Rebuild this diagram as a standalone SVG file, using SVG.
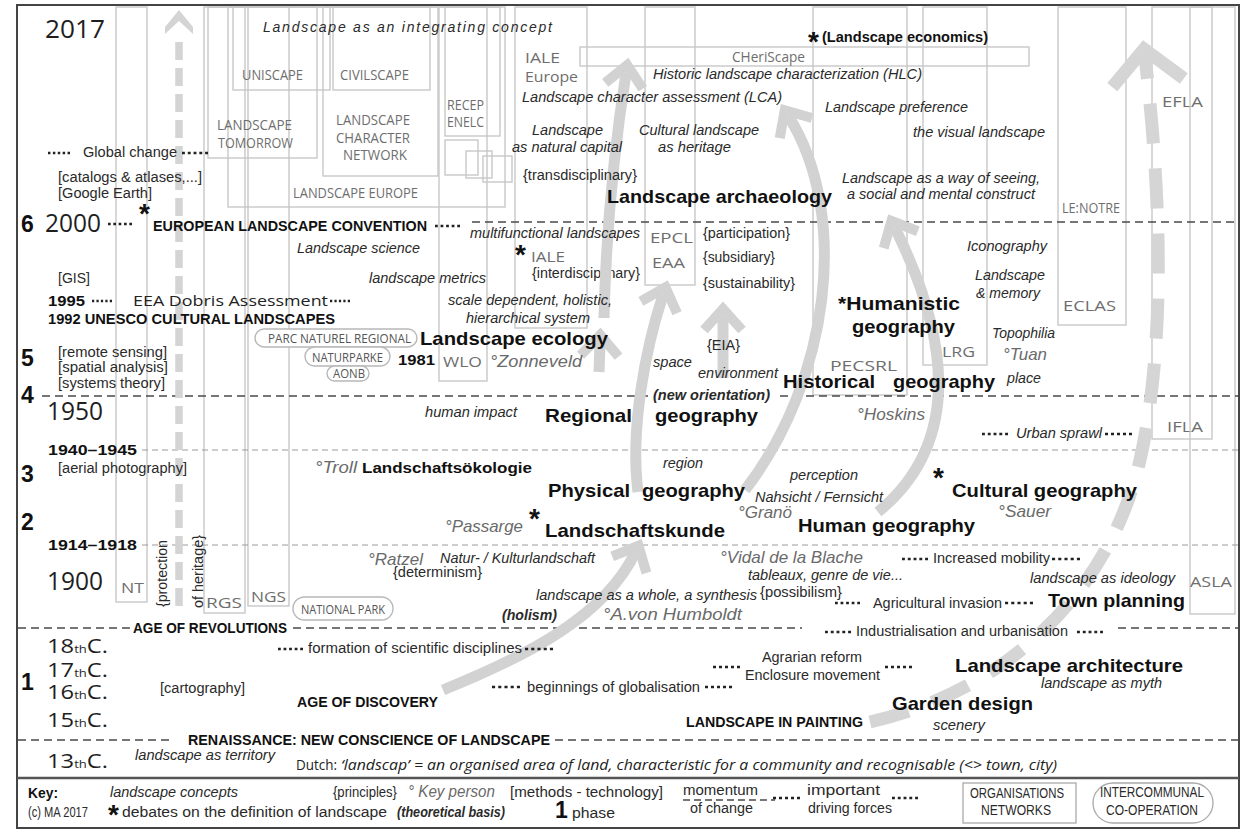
<svg xmlns="http://www.w3.org/2000/svg" width="1248" height="831" viewBox="0 0 1248 831">
<defs>
<style>
text{font-family:"Liberation Sans",Arial,sans-serif;fill:#2a2a2a;font-size:14px}
.it{font-style:italic}
.b{font-weight:bold;font-size:19px;fill:#111}
.bc{font-weight:bold;font-size:15px;fill:#111}
.o{font-family:"Open Sans","Liberation Sans",sans-serif;fill:#6e6e6e}
.od{font-family:"Open Sans","Liberation Sans",sans-serif;fill:#222}
.on{font-family:"Open Sans","Liberation Sans",sans-serif;fill:#555;font-size:12px}
.yr{font-family:"Open Sans","Liberation Sans",sans-serif;font-size:25px;fill:#1e1e1e}
.cy{font-family:"Open Sans","Liberation Sans",sans-serif;font-size:20px;fill:#1e1e1e}
.ph{font-weight:bold;font-size:23px;fill:#111}
.kp{font-style:italic;font-size:17px;fill:#6a6a6a}
.st{font-weight:bold;font-size:28px;fill:#111}
.box{fill:none;stroke:#c8c8c8;stroke-width:1.4}
.rbox{fill:#fff;stroke:#b8b8b8;stroke-width:1.4}
.dk{fill:none;stroke:#4a4a4a;stroke-width:1.6;stroke-dasharray:8 5}
.lt{fill:none;stroke:#9a9a9a;stroke-width:1;stroke-dasharray:6 4}
.dots{fill:none;stroke:#222;stroke-width:2.3;stroke-dasharray:1 1}
.arr{fill:none;stroke:#d2d2d2;stroke-width:11;marker-end:url(#chev)}
</style>
<marker id="chev" markerUnits="userSpaceOnUse" orient="auto" markerWidth="80" markerHeight="80" viewBox="-40 -40 80 80" refX="0" refY="0" overflow="visible">
<path d="M-13,-19 L8,0 L-13,19" fill="none" stroke="#d2d2d2" stroke-width="10"/>
</marker>
<marker id="chevBig" markerUnits="userSpaceOnUse" orient="auto" markerWidth="120" markerHeight="120" viewBox="-60 -60 120 120" refX="0" refY="0" overflow="visible">
<path d="M-26,-36 L8,0 L-26,36" fill="none" stroke="#d5d5d5" stroke-width="13"/>
</marker>
</defs>
<rect x="0" y="0" width="1248" height="831" fill="#fff"/>

<g id="organisations">
<g id="org-nt"><rect class="box" x="116" y="7" width="31" height="595"/><text class="o" x="121" y="593" font-size="19" textLength="23" lengthAdjust="spacingAndGlyphs">NT</text></g>
<g id="org-rgs"><rect class="box" x="204" y="7" width="41" height="606"/><text class="o" x="206" y="608" font-size="20" textLength="36" lengthAdjust="spacingAndGlyphs">RGS</text></g>
<g id="org-ngs"><rect class="box" x="248" y="7" width="41" height="599"/><text class="o" x="251" y="602" font-size="20" textLength="35" lengthAdjust="spacingAndGlyphs">NGS</text></g>
<g id="org-landscape-europe"><rect class="box" x="228" y="7" width="277" height="200"/><text class="o" x="293" y="198" font-size="14" textLength="125" lengthAdjust="spacingAndGlyphs">LANDSCAPE EUROPE</text></g>
<g id="org-landscape-tomorrow"><rect class="box" x="208" y="7" width="109" height="151"/><text class="o" x="217" y="130" font-size="14" textLength="75" lengthAdjust="spacingAndGlyphs">LANDSCAPE</text><text class="o" x="218" y="148" font-size="14" textLength="75" lengthAdjust="spacingAndGlyphs">TOMORROW</text></g>
<g id="org-uniscape"><rect class="box" x="233" y="7" width="97" height="83"/><text class="o" x="242" y="80" font-size="14" textLength="61" lengthAdjust="spacingAndGlyphs">UNISCAPE</text></g>
<g id="org-civilscape"><rect class="box" x="333" y="7" width="97" height="83"/><text class="o" x="340" y="80" font-size="14" textLength="69" lengthAdjust="spacingAndGlyphs">CIVILSCAPE</text></g>
<g id="org-lcn"><rect class="box" x="323" y="7" width="115" height="169"/><text class="o" x="336" y="125" font-size="14" textLength="74" lengthAdjust="spacingAndGlyphs">LANDSCAPE</text><text class="o" x="336" y="143" font-size="14" textLength="74" lengthAdjust="spacingAndGlyphs">CHARACTER</text><text class="o" x="343" y="160" font-size="14" textLength="64" lengthAdjust="spacingAndGlyphs">NETWORK</text></g>
<g id="org-recep"><rect class="box" x="445" y="7" width="55" height="129"/><text class="o" x="447" y="110" font-size="14" textLength="37" lengthAdjust="spacingAndGlyphs">RECEP</text><text class="o" x="447" y="127" font-size="14" textLength="37" lengthAdjust="spacingAndGlyphs">ENELC</text></g>
<g id="org-small-networks"><rect class="box" x="445" y="140" width="33" height="35"/><rect class="box" x="466" y="151" width="26" height="27"/><rect class="box" x="483" y="156" width="29" height="26"/></g>
<g id="org-wlo"><rect class="box" x="439" y="7" width="48" height="374"/><text class="o" x="443" y="367" font-size="19" textLength="39" lengthAdjust="spacingAndGlyphs">WLO</text></g>
<g id="org-iale"><rect class="box" x="515" y="7" width="72" height="321"/><text class="o" x="525" y="63" font-size="19" textLength="35" lengthAdjust="spacingAndGlyphs">IALE</text><text class="o" x="525" y="82" font-size="19" textLength="53" lengthAdjust="spacingAndGlyphs">Europe</text><text class="st" x="515" y="264">*</text><text class="o" x="531" y="262" font-size="18" textLength="34" lengthAdjust="spacingAndGlyphs">IALE</text><text x="532" y="278" textLength="108" lengthAdjust="spacingAndGlyphs">{interdisciplinary}</text></g>
<g id="org-epcl"><rect class="box" x="645" y="7" width="50" height="278"/><text class="o" x="650" y="243" font-size="19" textLength="43" lengthAdjust="spacingAndGlyphs">EPCL</text><text class="o" x="652" y="268" font-size="19" textLength="33" lengthAdjust="spacingAndGlyphs">EAA</text></g>
<g id="org-pecsrl"><rect class="box" x="813" y="7" width="94" height="388"/><text class="o" x="830" y="371" font-size="17" textLength="67" lengthAdjust="spacingAndGlyphs">PECSRL</text></g>
<g id="org-lrg"><rect class="box" x="923" y="7" width="64" height="358"/><text class="o" x="942" y="357" font-size="19" textLength="33" lengthAdjust="spacingAndGlyphs">LRG</text></g>
<g id="org-eclas"><rect class="box" x="1058" y="7" width="68" height="318"/><text class="o" x="1062" y="213" font-size="13" textLength="58" lengthAdjust="spacingAndGlyphs">LE:NOTRE</text><text class="o" x="1063" y="311" font-size="19" textLength="53" lengthAdjust="spacingAndGlyphs">ECLAS</text></g>
<g id="org-efla"><rect class="box" x="1152" y="7" width="60" height="432"/><text class="o" x="1162" y="107" font-size="20" textLength="41" lengthAdjust="spacingAndGlyphs">EFLA</text><text class="o" x="1167" y="432" font-size="20" textLength="36" lengthAdjust="spacingAndGlyphs">IFLA</text></g>
<g id="org-asla"><rect class="box" x="1190" y="7" width="45" height="607"/><text class="o" x="1190" y="587" font-size="19" textLength="42" lengthAdjust="spacingAndGlyphs">ASLA</text></g>
<g id="org-cheriscape"><rect class="box" x="580" y="47" width="449" height="19"/><text class="o" x="732" y="62" font-size="16" textLength="73" lengthAdjust="spacingAndGlyphs">CHeriScape</text></g>
</g>

<g id="phase-lines">
<path class="dk" d="M472 222H1238"/>
<path class="dk" d="M42 396H648M780 396H1238"/>
<path class="lt" d="M142 450H1238"/>
<path class="lt" d="M142 545H1238"/>
<path class="dk" d="M18 628H130M293 628H802M1118 628H1238"/>
<path class="dk" d="M18 740H172M555 740H1238"/>
</g>

<g id="connectors">
<path class="arr" d="M443 690C530 655 605 615 635 553"/>
<path class="arr" d="M638 492C630 430 645 350 663 295"/>
<path class="arr" d="M599 372L600 343"/>
<path class="arr" d="M604 318C606 230 614 150 626 73"/>
<path class="arr" d="M878 512Q990 420 895 228"/>
<path class="arr" d="M745 490C830 380 850 215 789 117"/>
<path class="arr" d="M723 378L723 317"/>
<path d="M870 722C1010 690 1110 590 1140 460C1165 350 1162 200 1145 57" fill="none" stroke="#d5d5d5" stroke-width="13" stroke-dasharray="40 25" marker-end="url(#chevBig)"/>
<path d="M179 606V34" fill="none" stroke="#d4d4d4" stroke-width="7.5" stroke-dasharray="18 8"/>
<polygon points="165,27 179,10 193,27 193,34 179,21 165,34" fill="#d4d4d4"/>
</g>

<g id="rounded-organisations">
<g id="org-pnr"><rect class="rbox" x="255" y="329" width="162" height="18" rx="9"/><text class="on" x="268" y="343" textLength="143" lengthAdjust="spacingAndGlyphs">PARC NATUREL REGIONAL</text></g>
<g id="org-naturparke"><rect class="rbox" x="305" y="347" width="85" height="19" rx="9.5"/><text class="on" x="312" y="362" textLength="71" lengthAdjust="spacingAndGlyphs">NATURPARKE</text></g>
<g id="org-aonb"><rect class="rbox" x="327" y="366" width="42" height="15" rx="7.5"/><text class="on" x="333" y="378" textLength="32" lengthAdjust="spacingAndGlyphs">AONB</text></g>
<g id="org-national-park"><rect class="rbox" x="293" y="597" width="100" height="23" rx="11.5"/><text class="on" x="301" y="614" textLength="84" lengthAdjust="spacingAndGlyphs">NATIONAL PARK</text></g>
</g>

<g id="timeline">
<text class="yr" x="45" y="38" font-size="27" textLength="60" lengthAdjust="spacingAndGlyphs">2017</text>
<text class="ph" x="21" y="232">6</text>
<text class="yr" x="45" y="232" textLength="56" lengthAdjust="spacingAndGlyphs">2000</text>
<text class="ph" x="21" y="366">5</text>
<text class="ph" x="21" y="403">4</text>
<text class="yr" x="47" y="420" textLength="56" lengthAdjust="spacingAndGlyphs">1950</text>
<text class="bc" x="48" y="455" textLength="89" lengthAdjust="spacingAndGlyphs">1940–1945</text>
<text class="ph" x="21" y="482">3</text>
<text class="ph" x="21" y="530">2</text>
<text class="bc" x="48" y="550" textLength="89" lengthAdjust="spacingAndGlyphs">1914–1918</text>
<text class="yr" x="47" y="590" textLength="56" lengthAdjust="spacingAndGlyphs">1900</text>
<text class="ph" x="21" y="690">1</text>
<text class="cy" x="47" y="653" textLength="61" lengthAdjust="spacingAndGlyphs">18<tspan font-size="11">th</tspan>C.</text>
<text class="cy" x="47" y="677" textLength="61" lengthAdjust="spacingAndGlyphs">17<tspan font-size="11">th</tspan>C.</text>
<text class="cy" x="47" y="699" textLength="61" lengthAdjust="spacingAndGlyphs">16<tspan font-size="11">th</tspan>C.</text>
<text class="cy" x="47" y="727" textLength="61" lengthAdjust="spacingAndGlyphs">15<tspan font-size="11">th</tspan>C.</text>
<text class="cy" x="47" y="768" textLength="61" lengthAdjust="spacingAndGlyphs">13<tspan font-size="11">th</tspan>C.</text>
<text x="58" y="182" textLength="144" lengthAdjust="spacingAndGlyphs">[catalogs &amp; atlases,...]</text>
<text x="58" y="198" textLength="94" lengthAdjust="spacingAndGlyphs">[Google Earth]</text>
<text x="58" y="283" textLength="32" lengthAdjust="spacingAndGlyphs">[GIS]</text>
<text x="58" y="357" textLength="109" lengthAdjust="spacingAndGlyphs">[remote sensing]</text>
<text x="58" y="372" textLength="110" lengthAdjust="spacingAndGlyphs">[spatial analysis]</text>
<text x="58" y="388" textLength="107" lengthAdjust="spacingAndGlyphs">[systems theory]</text>
<text x="58" y="473" textLength="129" lengthAdjust="spacingAndGlyphs">[aerial photography]</text>
<text x="160" y="693" textLength="85" lengthAdjust="spacingAndGlyphs">[cartography]</text>
<text transform="translate(167,607) rotate(-90)" textLength="67" lengthAdjust="spacingAndGlyphs">{protection</text>
<text transform="translate(203,608) rotate(-90)" textLength="73" lengthAdjust="spacingAndGlyphs">of heritage}</text>
</g>

<g id="driving-forces">
<path class="dots" pathLength="9" d="M48 153H70"/>
<path class="dots" pathLength="9" d="M182 153H208"/>
<text x="83" y="157" textLength="94" lengthAdjust="spacingAndGlyphs">Global change</text>
<path class="dots" pathLength="9" d="M108 224H132"/>
<path class="dots" pathLength="9" d="M435 226H460"/>
<path class="dots" pathLength="9" d="M92 301H112"/>
<path class="dots" pathLength="9" d="M330 301H350"/>
<text class="od" x="133" y="306" font-size="17" textLength="195" lengthAdjust="spacingAndGlyphs">EEA Dobris Assessment</text>
<path class="dots" pathLength="9" d="M982 434H1008"/>
<path class="dots" pathLength="9" d="M1105 434H1132"/>
<text class="it" x="1016" y="438" textLength="86" lengthAdjust="spacingAndGlyphs">Urban sprawl</text>
<path class="dots" pathLength="9" d="M902 559H928"/>
<path class="dots" pathLength="9" d="M1052 559H1080"/>
<text x="933" y="563" textLength="117" lengthAdjust="spacingAndGlyphs">Increased mobility</text>
<path class="dots" pathLength="9" d="M835 603H860"/>
<path class="dots" pathLength="9" d="M1005 603H1033"/>
<text x="873" y="608" textLength="129" lengthAdjust="spacingAndGlyphs">Agricultural invasion</text>
<path class="dots" pathLength="9" d="M825 632H851"/>
<path class="dots" pathLength="9" d="M1077 632H1103"/>
<text x="856" y="636" textLength="212" lengthAdjust="spacingAndGlyphs">Industrialisation and urbanisation</text>
<path class="dots" pathLength="9" d="M278 649H303"/>
<path class="dots" pathLength="9" d="M525 649H553"/>
<text x="308" y="653" textLength="214" lengthAdjust="spacingAndGlyphs">formation of scientific disciplines</text>
<path class="dots" pathLength="9" d="M713 667H740"/>
<path class="dots" pathLength="9" d="M885 667H912"/>
<text x="762" y="662" textLength="100" lengthAdjust="spacingAndGlyphs">Agrarian reform</text>
<text x="745" y="680" textLength="135" lengthAdjust="spacingAndGlyphs">Enclosure movement</text>
<path class="dots" pathLength="9" d="M492 687H520"/>
<path class="dots" pathLength="9" d="M705 687H732"/>
<text x="527" y="692" textLength="173" lengthAdjust="spacingAndGlyphs">beginnings of globalisation</text>
</g>

<g id="events">
<text class="st" x="139" y="223">*</text>
<text class="bc" x="153" y="231" font-size="16" textLength="274" lengthAdjust="spacingAndGlyphs">EUROPEAN LANDSCAPE CONVENTION</text>
<text class="bc" x="48" y="306" textLength="37" lengthAdjust="spacingAndGlyphs">1995</text>
<text class="bc" x="48" y="324" textLength="287" lengthAdjust="spacingAndGlyphs">1992 UNESCO CULTURAL LANDSCAPES</text>
<text class="bc" x="398" y="365" font-size="14" textLength="37" lengthAdjust="spacingAndGlyphs">1981</text>
<text class="bc" x="133" y="633" textLength="154" lengthAdjust="spacingAndGlyphs">AGE OF REVOLUTIONS</text>
<text class="bc" x="297" y="707" textLength="141" lengthAdjust="spacingAndGlyphs">AGE OF DISCOVERY</text>
<text class="bc" x="686" y="727" textLength="177" lengthAdjust="spacingAndGlyphs">LANDSCAPE IN PAINTING</text>
<text class="bc" x="188" y="745" textLength="362" lengthAdjust="spacingAndGlyphs">RENAISSANCE: NEW CONSCIENCE OF LANDSCAPE</text>
<text class="od" x="296" y="770" font-size="15" textLength="41" lengthAdjust="spacingAndGlyphs">Dutch:</text>
<text class="od it" x="341" y="770" font-size="15" textLength="716" lengthAdjust="spacingAndGlyphs">‘landscap’ = an organised area of land, characteristic for a community and recognisable (&lt;&gt; town, city)</text>
</g>

<g id="concepts">
<text class="it" x="263" y="32" textLength="289" lengthAdjust="spacing">Landscape as an integrating concept</text>
<g id="n-economics"><text class="st" x="808" y="51" font-size="22">*</text><text class="bc" x="822" y="42" font-size="14" textLength="166" lengthAdjust="spacingAndGlyphs">(Landscape economics)</text></g>
<text class="it" x="653" y="79" textLength="269" lengthAdjust="spacingAndGlyphs">Historic landscape characterization (HLC)</text>
<text class="it" x="522" y="102" textLength="260" lengthAdjust="spacingAndGlyphs">Landscape character assessment (LCA)</text>
<text class="it" x="825" y="112" textLength="143" lengthAdjust="spacingAndGlyphs">Landscape preference</text>
<text class="it" x="532" y="135" textLength="71" lengthAdjust="spacingAndGlyphs">Landscape</text>
<text class="it" x="512" y="152" textLength="110" lengthAdjust="spacingAndGlyphs">as natural capital</text>
<text class="it" x="639" y="135" textLength="120" lengthAdjust="spacingAndGlyphs">Cultural landscape</text>
<text class="it" x="658" y="152" textLength="73" lengthAdjust="spacingAndGlyphs">as heritage</text>
<text class="it" x="913" y="137" textLength="132" lengthAdjust="spacingAndGlyphs">the visual landscape</text>
<text x="523" y="180" textLength="114" lengthAdjust="spacingAndGlyphs">{transdisciplinary}</text>
<g id="n-landscape-archaeology"><text class="b" x="607" y="203" textLength="225" lengthAdjust="spacingAndGlyphs">Landscape archaeology</text></g>
<text class="it" x="842" y="183" textLength="198" lengthAdjust="spacingAndGlyphs">Landscape as a way of seeing,</text>
<text class="it" x="847" y="199" textLength="188" lengthAdjust="spacingAndGlyphs">a social and mental construct</text>
<text class="it" x="297" y="253" textLength="123" lengthAdjust="spacingAndGlyphs">Landscape science</text>
<text class="it" x="470" y="238" textLength="170" lengthAdjust="spacingAndGlyphs">multifunctional landscapes</text>
<text x="703" y="238" textLength="87" lengthAdjust="spacingAndGlyphs">{participation}</text>
<text x="703" y="262" textLength="72" lengthAdjust="spacingAndGlyphs">{subsidiary}</text>
<text x="703" y="288" textLength="92" lengthAdjust="spacingAndGlyphs">{sustainability}</text>
<text class="it" x="967" y="251" textLength="80" lengthAdjust="spacingAndGlyphs">Iconography</text>
<text class="it" x="975" y="280" textLength="70" lengthAdjust="spacingAndGlyphs">Landscape</text>
<text class="it" x="976" y="298" textLength="64" lengthAdjust="spacingAndGlyphs">&amp; memory</text>
<text class="it" x="369" y="283" textLength="117" lengthAdjust="spacingAndGlyphs">landscape metrics</text>
<text class="it" x="448" y="305" textLength="164" lengthAdjust="spacingAndGlyphs">scale dependent, holistic,</text>
<text class="it" x="466" y="323" textLength="124" lengthAdjust="spacingAndGlyphs">hierarchical system</text>
<g id="n-humanistic-geography"><text class="b" x="838" y="310" textLength="122" lengthAdjust="spacingAndGlyphs">*Humanistic</text><text class="b" x="852" y="333" textLength="103" lengthAdjust="spacingAndGlyphs">geography</text></g>
<text class="it" x="992" y="338" textLength="63" lengthAdjust="spacingAndGlyphs">Topophilia</text>
<g id="n-landscape-ecology"><text class="b" x="420" y="345" textLength="188" lengthAdjust="spacingAndGlyphs">Landscape ecology</text></g>
<text x="707" y="350" textLength="33" lengthAdjust="spacingAndGlyphs">{EIA}</text>
<text class="kp" x="1003" y="360" font-size="16" textLength="44" lengthAdjust="spacingAndGlyphs">°Tuan</text>
<text class="kp" x="490" y="367" textLength="92" lengthAdjust="spacingAndGlyphs">°Zonneveld</text>
<text class="it" x="653" y="367" textLength="39" lengthAdjust="spacingAndGlyphs">space</text>
<text class="it" x="698" y="378" textLength="80" lengthAdjust="spacingAndGlyphs">environment</text>
<g id="n-historical-geography"><text class="b" x="783" y="388" textLength="92" lengthAdjust="spacingAndGlyphs">Historical</text><text class="b" x="893" y="388" textLength="102" lengthAdjust="spacingAndGlyphs">geography</text></g>
<text class="it" x="1007" y="383" font-size="13" textLength="34" lengthAdjust="spacingAndGlyphs">place</text>
<text class="it" x="653" y="400" style="font-weight:bold" textLength="117" lengthAdjust="spacingAndGlyphs">(new orientation)</text>
<text class="it" x="425" y="417" textLength="92" lengthAdjust="spacingAndGlyphs">human impact</text>
<g id="n-regional-geography"><text class="b" x="545" y="422" textLength="87" lengthAdjust="spacingAndGlyphs">Regional</text><text class="b" x="655" y="422" textLength="103" lengthAdjust="spacingAndGlyphs">geography</text></g>
<text class="kp" x="857" y="420" font-size="16" textLength="68" lengthAdjust="spacingAndGlyphs">°Hoskins</text>
<text class="it" x="663" y="468" textLength="40" lengthAdjust="spacingAndGlyphs">region</text>
<g id="n-landschaftsoekologie"><text class="kp" x="315" y="473" font-size="16" textLength="42" lengthAdjust="spacingAndGlyphs">°Troll</text><text class="bc" x="362" y="473" textLength="170" lengthAdjust="spacingAndGlyphs">Landschaftsökologie</text></g>
<text class="it" x="790" y="480" textLength="68" lengthAdjust="spacingAndGlyphs">perception</text>
<g id="n-cultural-geography"><text class="st" x="933" y="487" font-size="24">*</text><text class="b" x="952" y="497" textLength="185" lengthAdjust="spacingAndGlyphs">Cultural geography</text><text class="kp" x="998" y="517" font-size="16" textLength="53" lengthAdjust="spacingAndGlyphs">°Sauer</text></g>
<g id="n-physical-geography"><text class="b" x="548" y="497" textLength="82" lengthAdjust="spacingAndGlyphs">Physical</text><text class="b" x="642" y="497" textLength="103" lengthAdjust="spacingAndGlyphs">geography</text></g>
<text class="it" x="755" y="502" textLength="128" lengthAdjust="spacingAndGlyphs">Nahsicht / Fernsicht</text>
<text class="kp" x="738" y="518" font-size="16" textLength="54" lengthAdjust="spacingAndGlyphs">°Granö</text>
<text class="kp" x="445" y="532" textLength="78" lengthAdjust="spacingAndGlyphs">°Passarge</text>
<g id="n-landschaftskunde"><text class="st" x="529" y="528" font-size="24">*</text><text class="b" x="545" y="537" textLength="180" lengthAdjust="spacingAndGlyphs">Landschaftskunde</text></g>
<g id="n-human-geography"><text class="b" x="798" y="532" textLength="177" lengthAdjust="spacingAndGlyphs">Human geography</text></g>
<text class="kp" x="368" y="565" font-size="16" textLength="55" lengthAdjust="spacingAndGlyphs">°Ratzel</text>
<text class="it" x="440" y="563" font-size="13" textLength="155" lengthAdjust="spacingAndGlyphs">Natur- / Kulturlandschaft</text>
<text x="393" y="577" textLength="89" lengthAdjust="spacingAndGlyphs">{determinism}</text>
<text class="kp" x="720" y="563" textLength="143" lengthAdjust="spacingAndGlyphs">°Vidal de la Blache</text>
<text class="it" x="748" y="580" font-size="13" textLength="155" lengthAdjust="spacingAndGlyphs">tableaux, genre de vie...</text>
<text x="760" y="597" textLength="82" lengthAdjust="spacingAndGlyphs">{possibilism}</text>
<text class="it" x="1030" y="583" textLength="145" lengthAdjust="spacingAndGlyphs">landscape as ideology</text>
<text class="it" x="536" y="600" textLength="221" lengthAdjust="spacingAndGlyphs">landscape as a whole, a synthesis</text>
<g id="n-town-planning"><text class="b" x="1048" y="607" textLength="137" lengthAdjust="spacingAndGlyphs">Town planning</text></g>
<text class="it" x="502" y="620" style="font-weight:bold" textLength="55" lengthAdjust="spacingAndGlyphs">(holism)</text>
<text class="kp" x="603" y="620" font-size="19" textLength="139" lengthAdjust="spacingAndGlyphs">°A.von Humboldt</text>
<g id="n-landscape-architecture"><text class="b" x="955" y="672" textLength="228" lengthAdjust="spacingAndGlyphs">Landscape architecture</text></g>
<text class="it" x="1041" y="688" textLength="121" lengthAdjust="spacingAndGlyphs">landscape as myth</text>
<g id="n-garden-design"><text class="b" x="892" y="710" font-size="20" textLength="141" lengthAdjust="spacingAndGlyphs">Garden design</text></g>
<text class="it" x="933" y="730" textLength="52" lengthAdjust="spacingAndGlyphs">scenery</text>
<text class="it" x="135" y="760" textLength="140" lengthAdjust="spacingAndGlyphs">landscape as territory</text>
</g>

<g id="frame">
<rect x="17" y="778" width="1222" height="50" fill="#fff"/>
<rect x="17" y="5" width="1222" height="823" fill="none" stroke="#444" stroke-width="2"/>
<path d="M17 778H1239" stroke="#555" stroke-width="2.4"/>
</g>

<g id="key">
<text class="bc" x="28" y="798" textLength="30" lengthAdjust="spacingAndGlyphs">Key:</text>
<text x="28" y="817" font-size="11" textLength="60" lengthAdjust="spacingAndGlyphs">(c) MA 2017</text>
<text class="it" x="110" y="797" textLength="128" lengthAdjust="spacingAndGlyphs">landscape concepts</text>
<text x="333" y="797" textLength="64" lengthAdjust="spacingAndGlyphs">{principles}</text>
<text class="st" x="108" y="824" font-size="20">*</text>
<text x="122" y="817" textLength="265" lengthAdjust="spacingAndGlyphs">debates on the definition of landscape</text>
<text class="kp" x="408" y="797" font-size="18" textLength="87" lengthAdjust="spacingAndGlyphs">° Key person</text>
<text class="it" x="397" y="817" style="font-weight:bold" textLength="108" lengthAdjust="spacingAndGlyphs">(theoretical basis)</text>
<text x="510" y="797" textLength="153" lengthAdjust="spacingAndGlyphs">[methods - technology]</text>
<text class="ph" x="555" y="818" font-size="22">1</text>
<text x="572" y="818" font-size="15" textLength="43" lengthAdjust="spacingAndGlyphs">phase</text>
<text x="683" y="795" textLength="75" lengthAdjust="spacingAndGlyphs">momentum</text>
<path class="dk" d="M683 800H775" style="stroke-dasharray:7 4;stroke-width:1.3"/>
<text x="690" y="813" textLength="63" lengthAdjust="spacingAndGlyphs">of change</text>
<path class="dots" pathLength="9" d="M773 798H800"/>
<path class="dots" pathLength="9" d="M892 798H918"/>
<text x="807" y="795" textLength="73" lengthAdjust="spacingAndGlyphs">important</text>
<text x="808" y="813" textLength="84" lengthAdjust="spacingAndGlyphs">driving forces</text>
<rect x="963" y="783" width="113" height="40" fill="none" stroke="#aaa" stroke-width="1.3"/>
<text x="970" y="798" font-size="12" textLength="94" lengthAdjust="spacingAndGlyphs">ORGANISATIONS</text>
<text x="981" y="815" font-size="12" textLength="70" lengthAdjust="spacingAndGlyphs">NETWORKS</text>
<rect x="1093" y="783" width="120" height="40" rx="20" fill="none" stroke="#aaa" stroke-width="1.3"/>
<text x="1100" y="797" font-size="12" textLength="104" lengthAdjust="spacingAndGlyphs">INTERCOMMUNAL</text>
<text x="1106" y="815" font-size="12" textLength="92" lengthAdjust="spacingAndGlyphs">CO-OPERATION</text>
</g>
</svg>
